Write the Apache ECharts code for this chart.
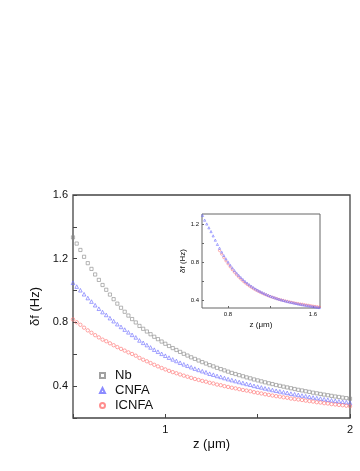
<!DOCTYPE html>
<html>
<head>
<meta charset="utf-8">
<script src="https://cdn.jsdelivr.net/npm/echarts@6/dist/echarts.min.js"></script>
<style>
  html, body { margin: 0; padding: 0; background: #fff; }
  #chart { width: 360px; height: 471px; }
</style>
</head>
<body>
<div id="chart"></div>
<script>
// z values (um) of main plot
var zMain = [0.50,0.52,0.54,0.56,0.58,0.60,0.62,0.64,0.66,0.68,
             0.70,0.72,0.74,0.76,0.78,0.80,0.82,0.84,0.86,0.88,
             0.90,0.92,0.94,0.96,0.98,1.00,1.02,1.04,1.06,1.08,
             1.10,1.12,1.14,1.16,1.18,1.20,1.22,1.24,1.26,1.28,
             1.30,1.32,1.34,1.36,1.38,1.40,1.42,1.44,1.46,1.48,
             1.50,1.52,1.54,1.56,1.58,1.60,1.62,1.64,1.66,1.68,
             1.70,1.72,1.74,1.76,1.78,1.80,1.82,1.84,1.86,1.88,
             1.90,1.92,1.94,1.96,1.98,2.00];

var nb = [1.334,1.295,1.255,1.212,1.172,1.136,1.101,1.067,1.035,1.005,
          0.975,0.946,0.918,0.892,0.867,0.843,0.821,0.800,0.778,0.760,
          0.743,0.726,0.710,0.695,0.680,0.666,0.652,0.639,0.627,0.615,
          0.603,0.592,0.581,0.571,0.561,0.551,0.542,0.532,0.524,0.515,
          0.507,0.499,0.491,0.483,0.476,0.469,0.462,0.455,0.449,0.442,
          0.436,0.430,0.424,0.418,0.413,0.407,0.402,0.397,0.392,0.387,
          0.382,0.377,0.373,0.368,0.364,0.359,0.355,0.351,0.347,0.343,
          0.339,0.335,0.332,0.328,0.325,0.321];

var cnfa = [1.049,1.025,1.002,0.977,0.953,0.931,0.908,0.886,0.865,0.847,
            0.827,0.808,0.789,0.772,0.755,0.738,0.722,0.706,0.687,0.672,
            0.658,0.643,0.629,0.616,0.603,0.591,0.579,0.568,0.558,0.547,
            0.537,0.528,0.519,0.510,0.502,0.494,0.487,0.478,0.472,0.464,
            0.458,0.451,0.444,0.438,0.432,0.426,0.420,0.414,0.409,0.402,
            0.397,0.392,0.386,0.381,0.376,0.371,0.367,0.362,0.358,0.353,
            0.349,0.345,0.341,0.337,0.333,0.329,0.325,0.322,0.318,0.315,
            0.311,0.308,0.305,0.302,0.299,0.295];

var icnfa = [0.819,0.801,0.785,0.767,0.750,0.735,0.720,0.706,0.692,0.682,
             0.669,0.657,0.645,0.634,0.623,0.612,0.602,0.591,0.577,0.566,
             0.556,0.545,0.534,0.524,0.514,0.505,0.496,0.488,0.481,0.473,
             0.466,0.459,0.452,0.445,0.439,0.433,0.428,0.421,0.417,0.410,
             0.406,0.400,0.395,0.390,0.386,0.381,0.376,0.372,0.368,0.362,
             0.358,0.354,0.349,0.345,0.341,0.337,0.334,0.330,0.327,0.322,
             0.319,0.316,0.313,0.309,0.306,0.303,0.299,0.297,0.293,0.291,
             0.287,0.285,0.282,0.280,0.277,0.274];

// inset
var zInset = [0.56,0.58,0.60,0.62,0.64,0.66,0.68,0.70,0.72,0.74,
              0.76,0.78,0.80,0.82,0.84,0.86,0.88,0.90,0.92,0.94,
              0.96,0.98,1.00,1.02,1.04,1.06,1.08,1.10,1.12,1.14,
              1.16,1.18,1.20,1.22,1.24,1.26,1.28,1.30,1.32,1.34,
              1.36,1.38,1.40,1.42,1.44,1.46,1.48,1.50,1.52,1.54,
              1.56,1.58,1.60,1.62,1.64,1.66];

var insetCnfa = [1.290,1.240,1.200,1.160,1.120,1.075,1.030,0.985,0.945,0.905,
                 0.868,0.833,0.800,0.768,0.738,0.710,0.684,0.660,0.637,0.616,
                 0.596,0.578,0.561,0.545,0.530,0.516,0.503,0.491,0.480,0.469,
                 0.459,0.449,0.440,0.432,0.424,0.416,0.409,0.402,0.396,0.390,
                 0.384,0.379,0.374,0.369,0.364,0.359,0.355,0.351,0.347,0.343,
                 0.339,0.335,0.331,0.328,0.324,0.321];

// red inset curve starts at z = 0.72
var insetIcnfa = [0.920,0.883,0.846,0.812,0.780,0.749,0.719,0.692,0.666,0.643,
                  0.621,0.600,0.581,0.564,0.548,0.533,0.519,0.506,0.494,0.483,
                  0.472,0.462,0.453,0.444,0.436,0.428,0.421,0.414,0.407,0.401,
                  0.396,0.390,0.385,0.380,0.375,0.371,0.366,0.362,0.358,0.355,
                  0.351,0.347,0.344,0.340,0.336,0.333,0.330,0.327];

var mainYLabels = [0.4, 0.8, 1.2, 1.6];
var mainXLabels = [1, 2];

function pairs(xs, ys) {
   var out = [];
   for (var i = 0; i < ys.length; i++) {
      out.push([xs[i], ys[i]]);
   }
   return out;
}

var FONT = 'Liberation Sans';
var GRAY = '#8a8a8a', BLUE = '#6e6eff', RED = '#ff7272';
var HOLLOW = 'rgba(255,255,255,0)';

var chart = echarts.init(document.getElementById('chart'), null, {renderer: 'canvas'});

var option = {
   animation: false,
   backgroundColor: '#fff',
   textStyle: {fontFamily: FONT},
   grid: [
      {left: 73, top: 195, width: 277, height: 223, show: true, borderColor: '#444', borderWidth: 1.3},
      {left: 202, top: 214, width: 118, height: 94, show: true, borderColor: '#666', borderWidth: 1}
   ],
   legend: {
      data: ['Nb', 'CNFA', 'ICNFA'],
      orient: 'vertical',
      left: 94,
      top: 364,
      itemWidth: 5,
      itemHeight: 5,
      itemGap: 2,
      textStyle: {fontSize: 13, color: '#111', fontFamily: FONT, padding: [0, 0, 0, 5]}
   },
   xAxis: [
      {
         gridIndex: 0, type: 'value', min: 0.5, max: 2, interval: 0.5,
         name: 'z (μm)', nameLocation: 'middle', nameGap: 20,
         nameTextStyle: {fontSize: 13, color: '#111', fontFamily: FONT},
         axisLine: {show: false},
         axisTick: {inside: true, length: 4, lineStyle: {color: '#444'}},
         splitLine: {show: false},
         axisLabel: {
            fontSize: 11, color: '#111', margin: 6, fontFamily: FONT,
            formatter: function (v) {
               return mainXLabels.indexOf(Math.round(v * 10) / 10) >= 0 ? String(Math.round(v)) : '';
            }
         }
      },
      {
         gridIndex: 1, type: 'value', min: 0.555, max: 1.666,
         name: 'z (μm)', nameLocation: 'middle', nameGap: 13,
         nameTextStyle: {fontSize: 8, color: '#111', fontFamily: FONT},
         axisLine: {show: false},
         axisTick: {inside: true, length: 2, customValues: [0.8, 1.2, 1.6], lineStyle: {color: '#666'}},
         splitLine: {show: false},
         axisLabel: {fontSize: 6, color: '#111', margin: 3, customValues: [0.8, 1.6], fontFamily: FONT,
            formatter: function (v) { return v.toFixed(1); }}
      }
   ],
   yAxis: [
      {
         gridIndex: 0, type: 'value', min: 0.2, max: 1.6, interval: 0.2,
         name: 'δf (Hz)', nameLocation: 'middle', nameGap: 23,
         nameTextStyle: {fontSize: 13, color: '#111', fontFamily: FONT},
         axisLine: {show: false},
         axisTick: {inside: true, length: 4, lineStyle: {color: '#444'}},
         splitLine: {show: false},
         axisLabel: {
            fontSize: 11, color: '#111', margin: 5, fontFamily: FONT,
            formatter: function (v) {
               var r = Math.round(v * 10) / 10;
               return mainYLabels.indexOf(r) >= 0 ? r.toFixed(1) : '';
            }
         }
      },
      {
         gridIndex: 1, type: 'value', min: 0.316, max: 1.305,
         name: 'δf (Hz)', nameLocation: 'middle', nameGap: 15,
         nameTextStyle: {fontSize: 8, color: '#111', fontFamily: FONT},
         axisLine: {show: false},
         axisTick: {inside: true, length: 2, customValues: [0.4, 0.6, 0.8, 1.0, 1.2], lineStyle: {color: '#666'}},
         splitLine: {show: false},
         axisLabel: {fontSize: 6, color: '#111', margin: 3, customValues: [0.4, 0.8, 1.2], fontFamily: FONT,
            formatter: function (v) { return v.toFixed(1); }}
      }
   ],
   series: [
      {
         name: 'Nb', type: 'scatter', xAxisIndex: 0, yAxisIndex: 0,
         symbol: 'rect', symbolSize: 3.2,
         itemStyle: {color: HOLLOW, borderColor: GRAY, borderWidth: 0.8},
         data: pairs(zMain, nb)
      },
      {
         name: 'CNFA', type: 'scatter', xAxisIndex: 0, yAxisIndex: 0,
         symbol: 'triangle', symbolSize: 3.6,
         itemStyle: {color: HOLLOW, borderColor: BLUE, borderWidth: 0.8},
         data: pairs(zMain, cnfa)
      },
      {
         name: 'ICNFA', type: 'scatter', xAxisIndex: 0, yAxisIndex: 0,
         symbol: 'circle', symbolSize: 3.4,
         itemStyle: {color: HOLLOW, borderColor: RED, borderWidth: 0.8},
         data: pairs(zMain, icnfa)
      },
      {
         name: 'inset ICNFA', type: 'scatter', xAxisIndex: 1, yAxisIndex: 1,
         symbol: 'circle', symbolSize: 2.2,
         itemStyle: {color: HOLLOW, borderColor: RED, borderWidth: 0.7},
         data: pairs(zInset.slice(8), insetIcnfa)
      },
      {
         name: 'inset CNFA', type: 'scatter', xAxisIndex: 1, yAxisIndex: 1,
         symbol: 'triangle', symbolSize: 2.2,
         itemStyle: {color: HOLLOW, borderColor: BLUE, borderWidth: 0.7},
         data: pairs(zInset, insetCnfa)
      }
   ]
};

chart.setOption(option);
</script>
</body>
</html>
